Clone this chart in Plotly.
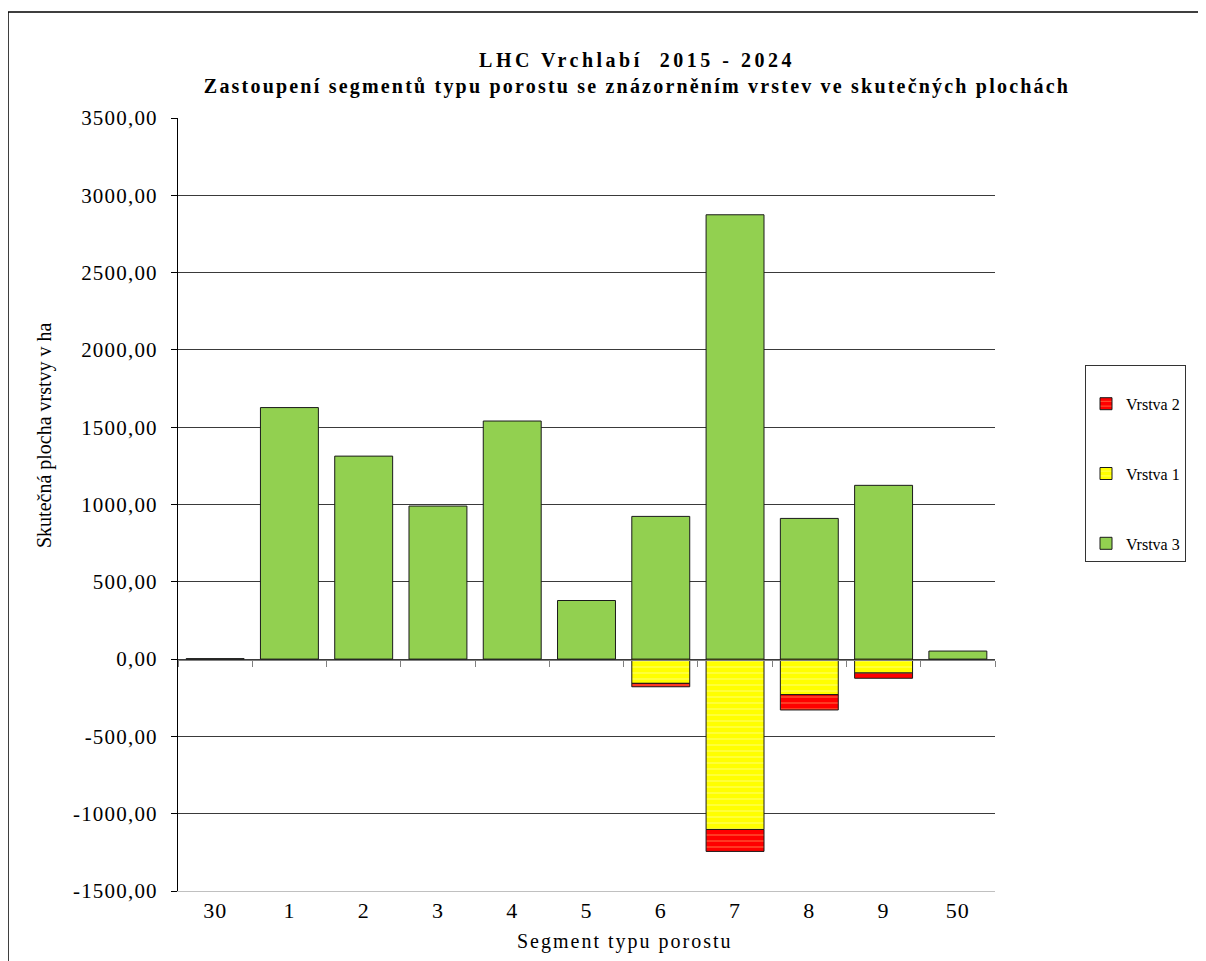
import plotly.graph_objects as go

segments = ["30", "1", "2", "3", "4", "5", "6", "7", "8", "9", "50"]
vrstva3 = [3, 1627, 1313, 990, 1540, 379, 923, 2874, 910, 1124, 52]
vrstva1 = [None, None, None, None, None, None, -157, -1102, -230, -90, None]
vrstva2 = [None, None, None, None, None, None, -22, -142, -99, -34, None]

ytick_vals = [-1500, -1000, -500, 0, 500, 1000, 1500, 2000, 2500, 3000, 3500]
ytick_text = ["-1500,00", "-1000,00", "-500,00", "0,00", "500,00", "1000,00",
              "1500,00", "2000,00", "2500,00", "3000,00", "3500,00"]

SERIF = "Liberation Serif, Times New Roman, serif"

# page is drawn inside an 8px body margin; figure coords = page coords - 8
OFF = 8
W, H = 1198, 953
L, R, T, B = 178 - OFF, 995 - OFF, 118 - OFF, 891 - OFF
pw, ph = R - L, B - T


def px_x(px):
    return (px - OFF - L) / pw


def px_y(py):
    return (B - (py - OFF)) / ph


fig = go.Figure()
fig.add_trace(go.Bar(
    x=segments, y=vrstva3, name="Vrstva 3", xaxis="x2", yaxis="y",
    marker=dict(color="#92D050", line=dict(color="#1a1a1a", width=1)),
    legendgroup="g3", legendrank=3,
))
fig.add_trace(go.Bar(
    x=segments, y=vrstva1, name="Vrstva 1", xaxis="x", yaxis="y",
    marker=dict(color="#FFFF00", line=dict(color="#1a1a1a", width=1),
                pattern=dict(shape="-", fgcolor="#ffffff", bgcolor="#FFFF00",
                             size=6, solidity=0.15)),
    legendgroup="g1", legendrank=2,
))
fig.add_trace(go.Bar(
    x=segments, y=vrstva2, name="Vrstva 2", xaxis="x", yaxis="y",
    marker=dict(color="#FF0000", line=dict(color="#1a1a1a", width=1),
                pattern=dict(shape="-", fgcolor="#ffff99", bgcolor="#FF0000",
                             size=6, solidity=0.15)),
    legendgroup="g2", legendrank=1,
))

fig.update_layout(
    width=W, height=H,
    margin=dict(l=L, r=W - R, t=T, b=H - B),
    paper_bgcolor="white", plot_bgcolor="white",
    barmode="relative", bargap=0.22,
    separators=", ",
    font=dict(family=SERIF, color="black"),
    title=dict(
        text="<b>LHC Vrchlabí  2015 - 2024<br>Zastoupení segmentů typu porostu se znázorněním vrstev ve skutečných plochách</b>",
        x=(637 - OFF) / W, xanchor="center", xref="container",
        y=1 - 59 / H, yanchor="top", yref="container",
        font=dict(family=SERIF, size=20, color="black"),
    ),
    xaxis=dict(
        type="category", categoryorder="array", categoryarray=segments,
        range=[-0.5, 10.5], showline=True, linecolor="#c0c0c0", linewidth=1,
        ticks="", showgrid=False, zeroline=False,
        tickfont=dict(family=SERIF, size=22),
    ),
    xaxis2=dict(
        type="category", categoryorder="array", categoryarray=segments,
        range=[-0.5, 10.5], overlaying="x", anchor="free", position=px_y(660),
        side="bottom", showline=True, linecolor="#808080", linewidth=1,
        ticks="outside", tickson="boundaries", ticklen=6, tickcolor="#808080",
        showticklabels=False, showgrid=False, zeroline=False,
    ),
    yaxis=dict(
        range=[-1500, 3500], tickvals=ytick_vals, ticktext=ytick_text,
        showline=True, linecolor="black", linewidth=1,
        ticks="outside", ticklen=6, tickcolor="black", ticklabelstandoff=9,
        showgrid=True, gridcolor="#3a3a3a", gridwidth=1, zeroline=False,
        tickfont=dict(family=SERIF, size=21),
    ),
    legend=dict(
        x=px_x(1085), xanchor="left", y=px_y(365), yanchor="top",
        bordercolor="#333333", borderwidth=1, bgcolor="white",
        traceorder="grouped", tracegroupgap=46,
        font=dict(family=SERIF, size=16),
        title=dict(text=" ", font=dict(size=16)),
    ),
    showlegend=True,
    annotations=[
        dict(
            text="Skutečná plocha vrstvy v ha", textangle=-90,
            x=px_x(44), y=px_y(435), xref="paper", yref="paper",
            xanchor="center", yanchor="middle",
            showarrow=False, font=dict(family=SERIF, size=20),
        ),
        dict(
            text="Segment typu porostu",
            x=px_x(625), y=px_y(941), xref="paper", yref="paper",
            xanchor="center", yanchor="middle",
            showarrow=False, font=dict(family=SERIF, size=20),
        ),
    ],
    shapes=[dict(
        type="rect", xref="paper", yref="paper",
        x0=px_x(8), x1=px_x(1200), y0=px_y(1000), y1=px_y(12),
        line=dict(color="black", width=1.5), fillcolor="rgba(0,0,0,0)",
        layer="below",
    )],
)

css = (".gtitle{letter-spacing:2.2px;}"
       ".gtitle > tspan.line:first-of-type{letter-spacing:3.5px;}"
       ".ytick text{letter-spacing:1.2px;}"
       ".xtick text{letter-spacing:1px;}"
       ".annotation[data-index=\"1\"] text{letter-spacing:2px;}")
post = ("var s=document.createElement('style');s.textContent='" + css +
        "';document.head.appendChild(s);")

fig.write_html("out.html", post_script=post)
